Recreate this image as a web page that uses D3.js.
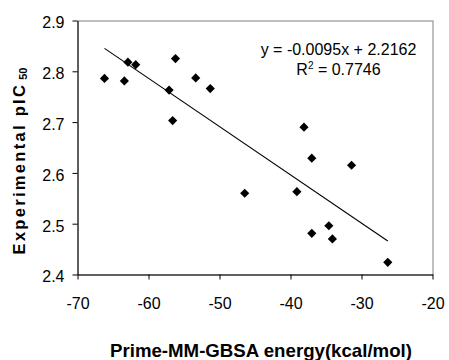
<!DOCTYPE html>
<html>
<head>
<meta charset="utf-8">
<script src="https://cdn.jsdelivr.net/npm/d3@7"></script>
<style>
  body { margin: 0; background: #fff; }
  svg { display: block; font-family: "Liberation Sans", Arial, sans-serif; }
</style>
</head>
<body>
<div id="chart"></div>
<script>
// Prime-MM-GBSA energy (kcal/mol) vs experimental pIC50
const energy = [-66.2, -63.4, -62.9, -61.8, -57.1, -56.2, -56.6, -53.35, -51.3,
                -38.1, -37.0, -31.4, -46.45, -39.1, -34.6, -37.0, -34.1, -26.3];
const pic50  = [2.786, 2.781, 2.818, 2.813, 2.763, 2.825, 2.703, 2.787, 2.766,
                2.690, 2.629, 2.615, 2.560, 2.563, 2.496, 2.481, 2.470, 2.424];
const xTicks = [-70, -60, -50, -40, -30, -20];
const yTicks = [2.4, 2.5, 2.6, 2.7, 2.8, 2.9];
const slope = -0.0095, intercept = 2.2162, r2 = '0.7746';

const w = 449, h = 360;
const svg = d3.select('#chart').append('svg').attr('width', w).attr('height', h);

const xScale = d3.scaleLinear().domain([-70, -20]).range([77.5, 432.5]);
const yScale = d3.scaleLinear().domain([2.4, 2.9]).range([274.5, 20.5]);

// plot area border (grey top/right)
svg.append('rect')
  .attr('x', 78).attr('y', 21)
  .attr('width', 355).attr('height', 254)
  .attr('fill', 'none').attr('stroke', '#808080');

const xAxis = svg.append('g')
  .attr('transform', 'translate(0,274.5)')
  .call(d3.axisBottom(xScale).tickValues(xTicks).tickFormat(d => String(d)).tickSize(5).tickSizeOuter(0));
xAxis.selectAll('text').attr('y', 34).attr('dy', 0)
  .style('font-size', '16px').attr('fill', '#000');

const yAxis = svg.append('g')
  .attr('transform', 'translate(77.5,0)')
  .call(d3.axisLeft(yScale).tickValues(yTicks).tickFormat(d => d.toFixed(1)).tickSize(5).tickSizeOuter(0).tickPadding(8));
yAxis.selectAll('text').attr('dy', '0.46em')
  .style('font-size', '16px').attr('fill', '#000');

svg.selectAll('.domain, .tick line').attr('stroke', '#000');
svg.selectAll('.tick text').style('font-family', '"Liberation Sans", Arial, sans-serif');

// trend line
const xMin = d3.min(energy), xMax = d3.max(energy);
svg.append('line')
  .attr('x1', xScale(xMin)).attr('y1', yScale(slope * xMin + intercept))
  .attr('x2', xScale(xMax)).attr('y2', yScale(slope * xMax + intercept))
  .attr('stroke', '#000').attr('stroke-width', 1.1);

// diamond markers
const diamond = d3.symbol().type(d3.symbolSquare).size(42);
svg.selectAll('path.pt').data(energy).enter().append('path')
  .attr('class', 'pt')
  .attr('d', diamond)
  .attr('transform', (d, i) => 'translate(' + xScale(d) + ',' + yScale(pic50[i]) + ') rotate(45)')
  .attr('fill', '#000');

// equation
const eq = svg.append('g').style('font-size', '16px');
eq.append('text').attr('x', 338.5).attr('y', 55).attr('text-anchor', 'middle')
  .text('y = -0.0095x + 2.2162');
const r = eq.append('text').attr('x', 338.5).attr('y', 75).attr('text-anchor', 'middle');
r.append('tspan').text('R');
r.append('tspan').attr('dy', -6).style('font-size', '10px').text('2');
r.append('tspan').attr('dy', 6).text(' = ' + r2);

// axis titles
svg.append('text')
  .attr('x', 261).attr('y', 357)
  .attr('text-anchor', 'middle')
  .attr('textLength', 302).attr('lengthAdjust', 'spacingAndGlyphs')
  .style('font-size', '19px').style('font-weight', 'bold')
  .text('Prime-MM-GBSA energy(kcal/mol)');

const yt = svg.append('text')
  .attr('transform', 'translate(25,161) rotate(-90)')
  .attr('text-anchor', 'middle')
  .style('font-size', '16.5px').style('font-weight', 'bold');
yt.append('tspan').attr('letter-spacing', '2.3px').text('Experimental pIC');
yt.append('tspan').attr('dx', 3).attr('dy', 2).style('font-size', '11px').text('50');
</script>
</body>
</html>
